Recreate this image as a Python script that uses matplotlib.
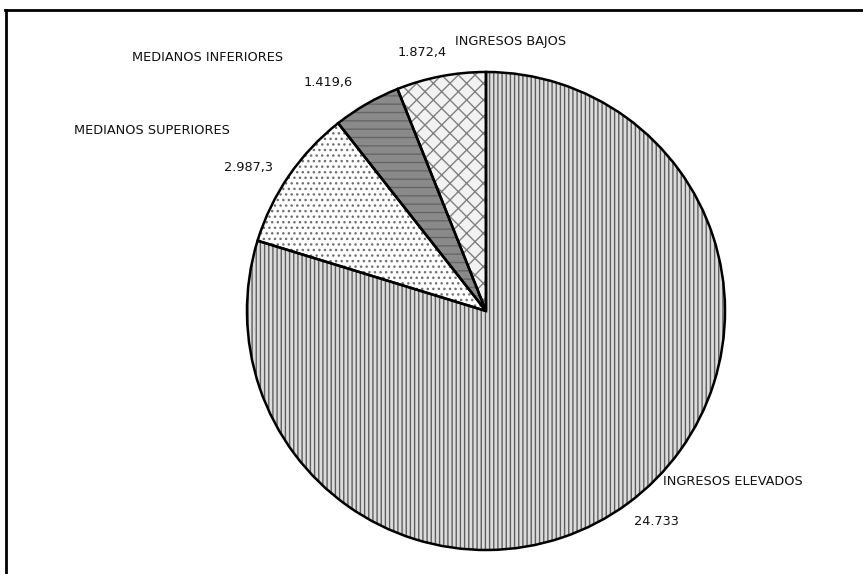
import matplotlib
matplotlib.use("Agg")
import matplotlib.pyplot as plt
from matplotlib.lines import Line2D

# Data (clockwise from 12 o'clock)
categories = ["INGRESOS ELEVADOS", "MEDIANOS SUPERIORES", "MEDIANOS INFERIORES", "INGRESOS BAJOS"]
values = [24733, 2987.3, 1419.6, 1872.4]
value_labels = ["24.733", "2.987,3", "1.419,6", "1.872,4"]

# styling per slice
face_colors = ["#dcdcdc", "#ffffff", "#8a8a8a", "#f2f2f2"]
hatch_colors = ["#5e5e5e", "#707070", "#666666", "#808080"]
hatches = ["||||", "...", "--", "xx"]

# label anchors in pie units (radius = 1)
name_pos = [(0.74, -0.715), (-1.725, 0.755), (-1.48, 1.06), (-0.13, 1.127)]
value_pos = [(0.62, -0.88), (-0.892, 0.60), (-0.558, 0.958), (-0.1625, 1.081)]
value_ha = ["left", "right", "right", "right"]

plt.rcParams['font.family'] = ['DejaVu Sans']
plt.rcParams['hatch.linewidth'] = 1.0

fig = plt.figure(figsize=(8.63, 5.74), dpi=100)
ax = fig.add_axes([0.2862, 0.0418, 0.5539, 0.8328])

wedges, _ = ax.pie(values, startangle=90, counterclock=False, radius=1.0)
for w, fc, hc, h in zip(wedges, face_colors, hatch_colors, hatches):
    w.set_facecolor(fc)
    w.set_edgecolor(hc)
    w.set_linewidth(0)
    w.set_hatch(h)

# black outlines on top
outline, _ = ax.pie(values, startangle=90, counterclock=False, radius=1.0,
                    wedgeprops=dict(fill=False, edgecolor="black", linewidth=1.8, clip_on=False))

for name, (x, y) in zip(categories, name_pos):
    ax.text(x, y, name, fontsize=9.3, ha="left", va="center", color="#111111")
for lab, (x, y), ha in zip(value_labels, value_pos, value_ha):
    ax.text(x, y, lab, fontsize=9.3, ha=ha, va="center", color="#111111")

ax.set_xlim(-1.0, 1.0)
ax.set_ylim(-1.0, 1.0)
ax.set_aspect("equal")
ax.axis("off")

# frame: top and left border only
fig.add_artist(Line2D([5 / 863, 1.0], [1 - 10 / 574, 1 - 10 / 574], color="black", linewidth=2, transform=fig.transFigure))
fig.add_artist(Line2D([6 / 863, 6 / 863], [0.0, 1 - 10 / 574], color="black", linewidth=2, transform=fig.transFigure))

fig.savefig("out.png", dpi=100)
